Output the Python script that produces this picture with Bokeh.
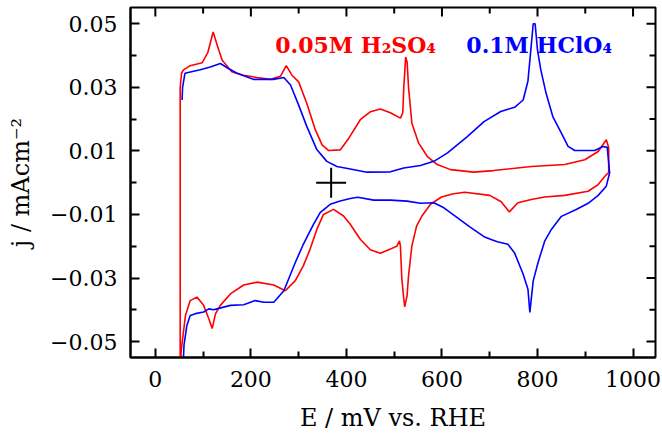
from bokeh.plotting import figure
from bokeh.models import FixedTicker, Range1d, Label
from bokeh.embed import file_html
from bokeh.resources import INLINE

# ---------------- data ----------------
x_ticks = [0, 200, 400, 600, 800, 1000]
x_minor = [100, 300, 500, 700, 900]
y_ticks = [-0.05, -0.03, -0.01, 0.01, 0.03, 0.05]
y_tick_labels = ["\u22120.05", "\u22120.03", "\u22120.01", "0.01", "0.03", "0.05"]
y_minor = [-0.04, -0.02, 0.0, 0.02, 0.04]

# 0.05M H2SO4 (red) : anodic sweep then cathodic sweep
h2so4_E = [52, 52, 55, 59, 73, 98, 110, 121, 130, 140, 160, 184, 213, 241, 262, 274,
           286, 300, 317, 335, 349, 363, 387, 405, 429, 450, 471, 492, 513, 518, 520,
           524, 527, 530, 537, 551, 569, 590, 618, 666, 708, 787, 857, 899, 927, 944,
           949, 949,
           941, 927, 906, 857, 815, 787, 759, 741, 724, 700, 648, 624, 599, 576, 558,
           547, 537, 530, 527, 522, 519, 516, 513, 511, 506, 492, 471, 450, 429, 408,
           394, 373, 352, 338, 324, 310, 293, 272, 248, 213, 185, 157, 136, 126, 119,
           112, 101, 87, 73, 63, 58, 54, 53]
h2so4_j = [-0.058, 0.030, 0.0345, 0.0355, 0.0368, 0.0377, 0.041, 0.0474, 0.043, 0.0385,
           0.0349, 0.0338, 0.0331, 0.0325, 0.0335, 0.0368, 0.0338, 0.0317, 0.025, 0.0166,
           0.0119, 0.0101, 0.0103, 0.014, 0.0198, 0.0223, 0.0232, 0.022, 0.0203, 0.022,
           0.0297, 0.0395, 0.038, 0.030, 0.0187, 0.0125, 0.0083, 0.0057, 0.0041, 0.0033,
           0.0038, 0.0051, 0.0057, 0.0072, 0.0098, 0.0135, 0.011, 0.0032,
           0.002, -0.0006, -0.0027, -0.004, -0.0045, -0.0053, -0.0063, -0.0092, -0.006,
           -0.004, -0.003, -0.0035, -0.0045, -0.0068, -0.0105, -0.0136, -0.0199, -0.0293,
           -0.0355, -0.0391, -0.035, -0.0303, -0.0199, -0.0183, -0.0199, -0.0209, -0.0222,
           -0.0211, -0.0178, -0.0131, -0.0105, -0.0084, -0.010, -0.0147, -0.0209, -0.0261,
           -0.0308, -0.034, -0.0322, -0.0313, -0.0322, -0.035, -0.0386, -0.0412, -0.0459,
           -0.0428, -0.0386, -0.036, -0.0371, -0.0418, -0.048, -0.0531, -0.058]

# 0.1M HClO4 (blue)
hclo4_E = [56, 57, 62, 94, 115, 136, 153, 171, 205, 247, 269, 283, 300, 317, 338, 359,
           380, 408, 443, 492, 520, 555, 583, 611, 653, 688, 723, 752, 770, 780, 786,
           791, 795, 800, 807, 818, 832, 850, 864, 878, 920, 937, 946, 951,
           944, 927, 906, 880, 850, 829, 815, 801, 791, 786, 784, 780, 770, 752, 738,
           716, 703, 688, 659, 632, 604, 583, 555, 527, 492, 457, 424, 408, 387, 366,
           345, 331, 310, 293, 279, 269, 248, 227, 209, 185, 157, 129, 122, 112, 101,
           84, 73, 66, 60, 58]
hclo4_j = [0.026, 0.030, 0.0344, 0.0355, 0.0364, 0.0375, 0.0359, 0.0344, 0.0325, 0.0325,
           0.0331, 0.0307, 0.0244, 0.0177, 0.0104, 0.0067, 0.0051, 0.0043, 0.0033, 0.0034,
           0.0046, 0.0054, 0.0067, 0.0093, 0.0145, 0.0192, 0.0224, 0.0237, 0.026, 0.032,
           0.0417, 0.050, 0.050, 0.0417, 0.0354, 0.0281, 0.0208, 0.0156, 0.0114, 0.0101,
           0.0101, 0.0114, 0.0111, 0.0031,
           -0.0011, -0.004, -0.0065, -0.0085, -0.0106, -0.0147, -0.0184, -0.0252, -0.0309,
           -0.038, -0.0408, -0.0335, -0.0288, -0.0221, -0.0194, -0.0186, -0.0179, -0.017,
           -0.014, -0.011, -0.0079, -0.0063, -0.0065, -0.0058, -0.0055, -0.0055, -0.0046,
           -0.005, -0.0058, -0.0068, -0.0094, -0.0131, -0.0193, -0.0251, -0.0303, -0.034,
           -0.0376, -0.0376, -0.0371, -0.0384, -0.0386, -0.0397, -0.040, -0.0397, -0.0407,
           -0.0412, -0.0418, -0.0449, -0.0511, -0.058]

cross_E = [368]
cross_j = [0.0]

label_red = "0.05M H\u2082SO\u2084"
label_blue = "0.1M HClO\u2084"
x_title = "E / mV vs. RHE"
y_title = "j / mAcm\u207b\u00b2"

FONT = "DejaVu Serif"
X0, X1 = -52, 1047
Y0, Y1 = -0.055, 0.0551
FRAME_W, FRAME_H = 525, 352   # frame size in px (turns tick lengths into data units)

# ---------------- figure ----------------
p = figure(width=662, height=434, x_range=Range1d(X0, X1), y_range=Range1d(Y0, Y1),
           output_backend="svg", toolbar_location=None,
           min_border_left=130, min_border_right=7, min_border_top=7, min_border_bottom=75)
p.grid.visible = False
p.outline_line_color = "black"
p.outline_line_width = 2
p.background_fill_color = "white"
p.border_fill_color = "white"


def style_axis(ax, ticks, minor):
    ax.ticker = FixedTicker(ticks=ticks, minor_ticks=minor)
    ax.axis_line_color = "black"
    ax.axis_line_width = 2
    ax.major_tick_line_color = "black"
    ax.major_tick_line_width = 2
    ax.minor_tick_line_color = "black"
    ax.minor_tick_line_width = 2
    ax.major_tick_in = 9
    ax.major_tick_out = 0
    ax.minor_tick_in = 6
    ax.minor_tick_out = 0
    ax.major_label_text_font = FONT
    ax.major_label_text_font_size = "22px"
    ax.major_label_text_color = "black"
    ax.major_label_standoff = 13
    ax.axis_label_text_font = FONT
    ax.axis_label_text_font_size = "24px"
    ax.axis_label_text_font_style = "normal"
    ax.axis_label_text_color = "black"


xa = p.xaxis[0]
style_axis(xa, x_ticks, x_minor)
xa.axis_label = x_title
xa.axis_label_standoff = 14

ya = p.yaxis[0]
style_axis(ya, y_ticks, y_minor)
ya.major_label_overrides = {t: s for t, s in zip(y_ticks, y_tick_labels)}
ya.axis_label = y_title
ya.axis_label_standoff = 12

# inward tick marks on the top and right frame edges, drawn from the tick arrays
dx_major = 9 * (X1 - X0) / FRAME_W
dx_minor = 6 * (X1 - X0) / FRAME_W
dy_major = 9 * (Y1 - Y0) / FRAME_H
dy_minor = 6 * (Y1 - Y0) / FRAME_H


def top_ticks(xs, length):
    n = len(xs)
    p.segment(x0=xs, y0=[Y1] * n, x1=xs, y1=[Y1 - length] * n, line_color="black", line_width=2)


def right_ticks(ys, length):
    n = len(ys)
    p.segment(x0=[X1] * n, y0=ys, x1=[X1 - length] * n, y1=ys, line_color="black", line_width=2)


top_ticks(x_ticks, dy_major)
top_ticks(x_minor, dy_minor)
right_ticks(y_ticks, dx_major)
right_ticks(y_minor, dx_minor)

p.line(h2so4_E, h2so4_j, line_color="#ff0000", line_width=1.6)
p.line(hclo4_E, hclo4_j, line_color="#0000ff", line_width=1.6)
p.scatter(cross_E, cross_j, marker="cross", size=30, line_color="black", line_width=2)

p.add_layout(Label(x=251, y=0.0432, text=label_red, text_color="#ff0000",
                   text_font=FONT, text_font_style="bold", text_font_size="22px",
                   text_baseline="alphabetic"))
p.add_layout(Label(x=651, y=0.0432, text=label_blue, text_color="#0000ff",
                   text_font=FONT, text_font_style="bold", text_font_size="22px",
                   text_baseline="alphabetic"))

open("out.html", "w").write(file_html(p, INLINE))
